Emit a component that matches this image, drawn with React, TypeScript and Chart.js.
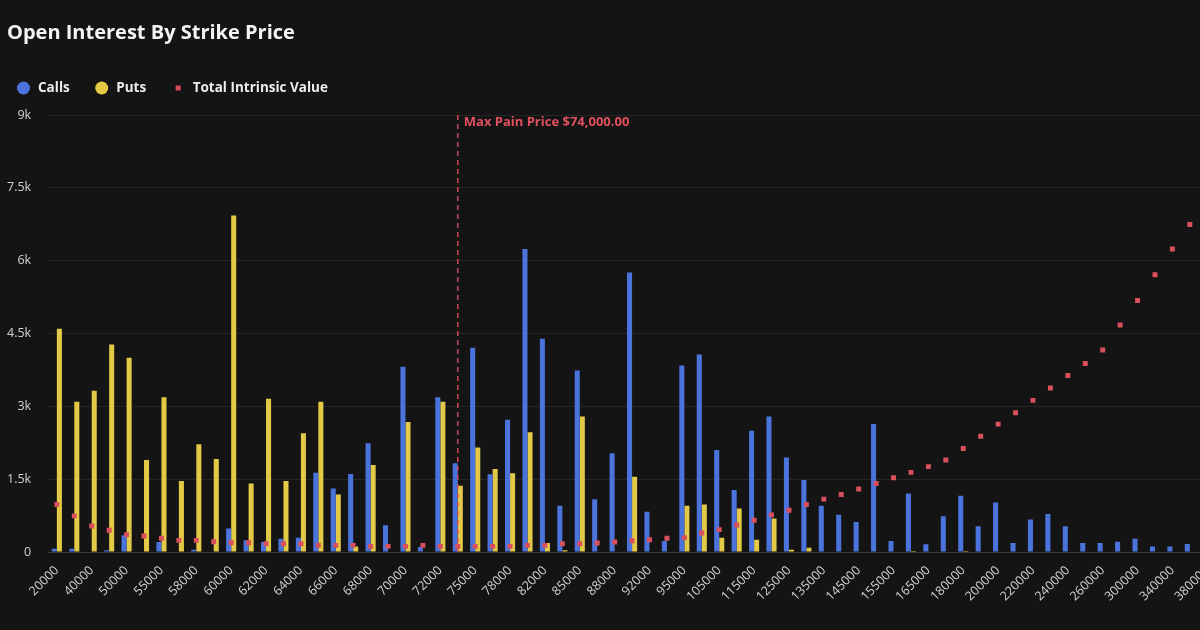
import { useEffect, useRef } from 'react';
import { Chart, registerables } from 'chart.js';

Chart.register(...registerables);

const chartTitle = 'Open Interest By Strike Price';

const strikes = [
  '20000', '30000', '40000', '45000', '50000', '52000', '55000', '56000', '58000', '59000',
  '60000', '61000', '62000', '63000', '64000', '65000', '66000', '67000', '68000', '69000',
  '70000', '71000', '72000', '74000', '75000', '76000', '78000', '80000', '82000', '84000',
  '85000', '86000', '88000', '90000', '92000', '94000', '95000', '100000', '105000', '110000',
  '115000', '120000', '125000', '130000', '135000', '140000', '145000', '150000', '155000', '160000',
  '165000', '170000', '180000', '190000', '200000', '210000', '220000', '230000', '240000', '250000',
  '260000', '280000', '300000', '320000', '340000', '360000', '380000',
];

const callsOI = [
  70, 70, 0, 35, 345, 0, 207, 0, 48, 0,
  483, 241, 207, 276, 297, 1635, 1310, 1607, 2241, 552,
  3814, 103, 3186, 1828, 4207, 1600, 2724, 6242, 4393, 952,
  3738, 1090, 2035, 5759, 828, 228, 3841, 4069, 2104, 1276,
  2497, 2793, 1945, 1483, 952, 766, 621, 2635, 228, 1207,
  159, 738, 1159, 531, 1021, 186, 669, 786, 531, 186,
  186, 214, 276, 117, 117, 166, 140,
];

const putsOI = [
  4600, 3097, 3324, 4276, 4000, 1897, 3186, 1462, 2221, 1917,
  6931, 1414, 3159, 1462, 2448, 3097, 1186, 117, 1793, 0,
  2676, 0, 3097, 1366, 2152, 1710, 1621, 2469, 186, 35,
  2793, 0, 0, 1552, 0, 0, 952, 979, 297, 897,
  255, 690, 48, 90, 0, 0, 0, 0, 0, 20,
  0, 0, 20, 0, 0, 0, 0, 0, 0, 0,
  0, 0, 0, 0, 0, 0, 0,
];

const intrinsicValue = [
  979, 745, 538, 448, 359, 331, 283, 241, 241, 214,
  193, 193, 172, 172, 172, 138, 138, 138, 117, 117,
  117, 138, 117, 117, 117, 117, 117, 138, 138, 172,
  172, 186, 207, 234, 255, 283, 297, 393, 462, 559,
  655, 766, 862, 979, 1090, 1186, 1297, 1414, 1531, 1641,
  1759, 1897, 2131, 2386, 2635, 2869, 3124, 3380, 3635, 3883,
  4159, 4676, 5180, 5711, 6242, 6745, 7260,
];

const maxPainStrike = '74000';
const maxPainLabel = 'Max Pain Price $74,000.00';

const yMax = 9000;
const yStep = 1500;

const FONT = '"Open Sans", "Noto Sans", sans-serif';
const BG = '#141414';
const CALL_COLOR = '#4a73dc';
const PUT_COLOR = '#e3c946';
const POINT_COLOR = '#d9505c';
const PAIN_COLOR = '#c9485b';
const Y_LABEL_GAP = 17;

// Horizontal legend row under the title: circles for bar series, a small square for the point series.
const rowLegend = {
  id: 'rowLegend',
  afterDraw(chart: any) {
    const ctx = chart.ctx as CanvasRenderingContext2D;
    ctx.save();
    ctx.font = `bold 13.5px ${FONT}`;
    ctx.textBaseline = 'middle';
    ctx.textAlign = 'left';
    const cy = 88;
    let cx = 23.5;
    chart.data.datasets.forEach((ds: any) => {
      const color = ds.type === 'line' ? ds.pointBackgroundColor : ds.backgroundColor;
      ctx.fillStyle = color;
      if (ds.type === 'line') {
        ctx.fillRect(cx - 2.5, cy - 2.5, 5, 5);
      } else {
        ctx.beginPath();
        ctx.arc(cx, cy, 6.5, 0, Math.PI * 2);
        ctx.fill();
      }
      const tx = cx + 14.5;
      ctx.fillStyle = '#ececec';
      ctx.fillText(ds.label, tx, cy);
      cx = tx + ctx.measureText(ds.label).width + 32;
    });
    ctx.restore();
  },
};

// Dashed vertical marker at the max pain strike with its caption.
const maxPainLine = {
  id: 'maxPainLine',
  afterDatasetsDraw(chart: any) {
    const idx = strikes.indexOf(maxPainStrike);
    if (idx < 0) return;
    const ctx = chart.ctx as CanvasRenderingContext2D;
    const x = chart.scales.x.getPixelForValue(idx);
    const { top, bottom } = chart.chartArea;
    ctx.save();
    ctx.strokeStyle = PAIN_COLOR;
    ctx.lineWidth = 1.5;
    ctx.setLineDash([5, 4]);
    ctx.beginPath();
    ctx.moveTo(x, top);
    ctx.lineTo(x, bottom);
    ctx.stroke();
    ctx.setLineDash([]);
    ctx.font = `bold 13px ${FONT}`;
    ctx.fillStyle = '#e0505f';
    ctx.textBaseline = 'middle';
    ctx.textAlign = 'left';
    ctx.fillText(maxPainLabel, x + 6, top + 7);
    ctx.restore();
  },
};

export default function App() {
  const canvasRef = useRef<HTMLCanvasElement | null>(null);

  useEffect(() => {
    if (!canvasRef.current) return;
    const chart = new Chart(canvasRef.current, {
      type: 'bar',
      data: {
        labels: strikes,
        datasets: [
          {
            type: 'bar',
            label: 'Calls',
            data: callsOI,
            backgroundColor: CALL_COLOR,
            barPercentage: 1,
            categoryPercentage: 0.58,
            order: 1,
          },
          {
            type: 'bar',
            label: 'Puts',
            data: putsOI,
            backgroundColor: PUT_COLOR,
            barPercentage: 1,
            categoryPercentage: 0.58,
            order: 1,
          },
          {
            type: 'line',
            label: 'Total Intrinsic Value',
            data: intrinsicValue,
            showLine: false,
            pointStyle: 'rect',
            pointRadius: 3.5,
            pointBorderWidth: 0,
            pointBackgroundColor: POINT_COLOR,
            backgroundColor: POINT_COLOR,
            borderColor: POINT_COLOR,
            order: 0,
          },
        ] as any,
      },
      options: {
        responsive: false,
        animation: false,
        layout: { padding: { left: 7, right: 8, top: 0, bottom: 23 } },
        plugins: {
          legend: { display: false },
          tooltip: { enabled: false },
          title: {
            display: true,
            text: chartTitle,
            align: 'start',
            color: '#f4f4f4',
            font: { family: FONT, size: 20, weight: 'bold' },
            padding: { top: 21, bottom: 70 },
          },
        },
        scales: {
          x: {
            grid: { display: false },
            border: { display: true, color: '#3a3a3a' },
            // rotated labels may hang past the plot edges; keep the plot itself full width
            afterFit: (scale: any) => {
              scale.paddingLeft = 0;
              scale.paddingRight = 0;
            },
            ticks: {
              autoSkip: false,
              maxRotation: 45,
              minRotation: 45,
              color: '#d2d2d2',
              font: { family: FONT, size: 12.5 },
              callback: (_v: any, i: number) => (i % 2 === 0 ? strikes[i] : ''),
            },
          },
          y: {
            min: 0,
            max: yMax,
            grid: { color: '#262626', drawTicks: false },
            border: { display: false },
            // tick padding is reserved on both sides of the labels; keep only the gap next to the plot
            afterFit: (scale: any) => {
              scale.width -= Y_LABEL_GAP;
            },
            ticks: {
              stepSize: yStep,
              padding: Y_LABEL_GAP,
              color: '#d2d2d2',
              font: { family: FONT, size: 12.5 },
              callback: (v: any) => (Number(v) === 0 ? '0' : `${Number(v) / 1000}k`),
            },
          },
        },
      },
      plugins: [rowLegend, maxPainLine],
    });
    return () => chart.destroy();
  }, []);

  return (
    <div
      style={{
        position: 'fixed',
        left: 0,
        top: 0,
        width: 1200,
        height: 630,
        overflow: 'hidden',
        background: BG,
      }}
    >
      <canvas ref={canvasRef} width={1224} height={630} style={{ display: 'block' }} />
    </div>
  );
}
